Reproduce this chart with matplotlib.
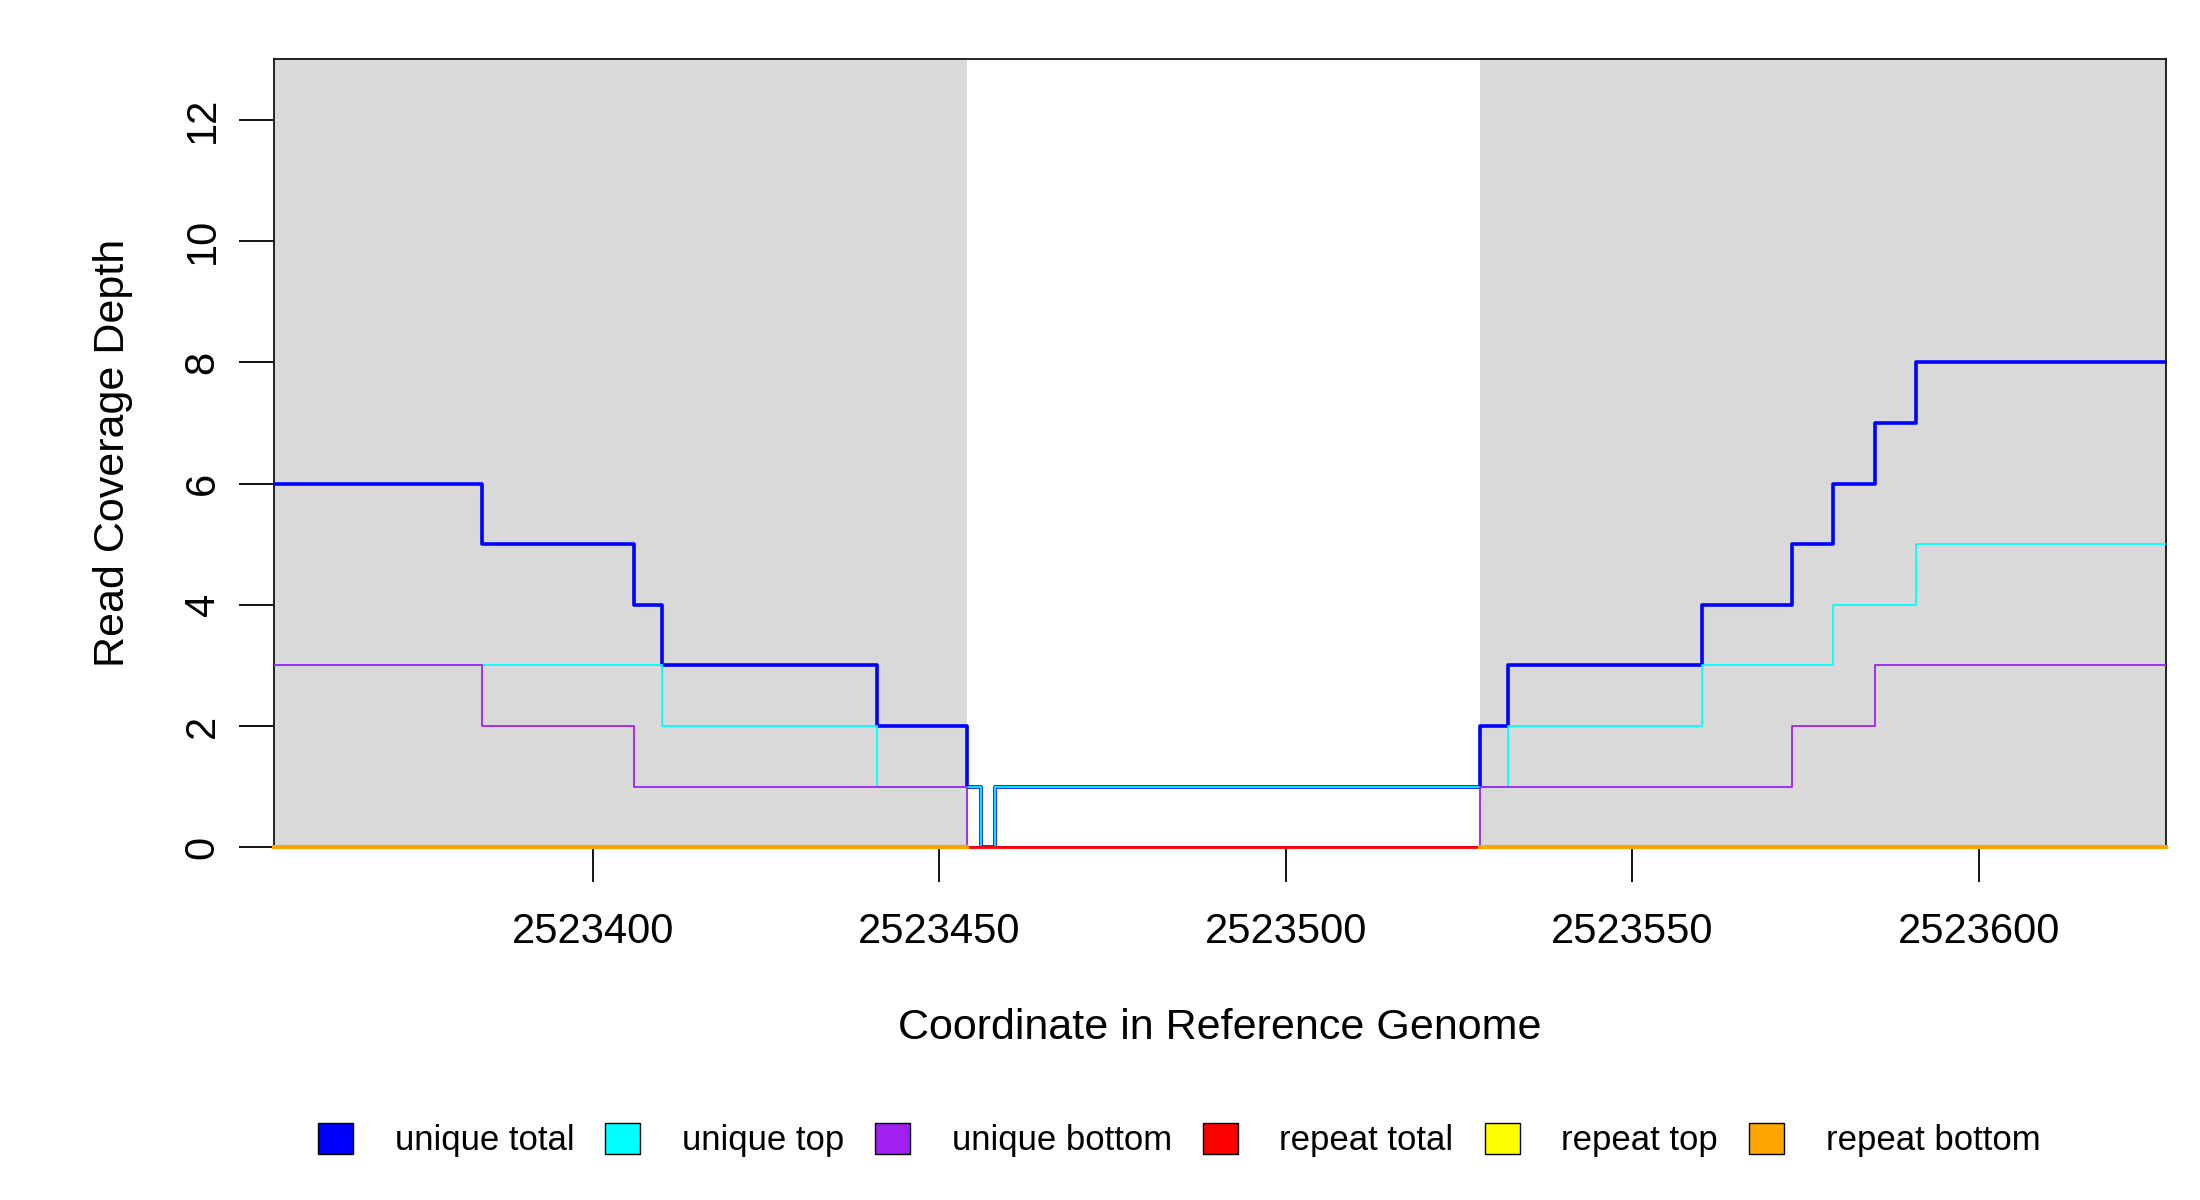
import matplotlib.pyplot as plt
import numpy as np
from matplotlib.patches import Patch

plt.rcParams['font.family'] = ['Liberation Sans', 'DejaVu Sans']

# step edges (coordinate where each value starts) and values
total_x = [2523354, 2523384, 2523406, 2523410, 2523441, 2523454, 2523456, 2523458,
           2523528, 2523532, 2523560, 2523573, 2523579, 2523585, 2523591, 2523627]
total_y = [6, 5, 4, 3, 2, 1, 0, 1, 2, 3, 4, 5, 6, 7, 8, 8]
top_x = [2523354, 2523410, 2523441, 2523456, 2523458, 2523532, 2523560, 2523579, 2523591, 2523627]
top_y = [3, 2, 1, 0, 1, 2, 3, 4, 5, 5]
bottom_x = [2523354, 2523384, 2523406, 2523454, 2523528, 2523573, 2523585, 2523627]
bottom_y = [3, 2, 1, 0, 1, 2, 3, 3]
gray_regions = [(2523354, 2523454), (2523528, 2523627)]
xlim = (2523354, 2523627)

fig = plt.figure(figsize=(22, 12), dpi=100)
ax = fig.add_axes([0.1245, 0.294, 0.86, 0.6566])
for a, b in gray_regions:
    ax.axvspan(a, b, color='#d9d9d9', lw=0, zorder=0)

ax.step(total_x, total_y, where='post', color='#0000ff', lw=2.6, zorder=3)
ax.step(top_x, top_y, where='post', color='#00ffff', lw=1.3, zorder=4)
ax.step(bottom_x, bottom_y, where='post', color='#a020f0', lw=1.3, zorder=5)
ax.plot(xlim, [0, 0], color='#ff0000', lw=2, zorder=6, clip_on=False)
for a, b in gray_regions:
    ax.plot([a, b], [0, 0], color='#ffa500', lw=3, zorder=7, clip_on=False)

ax.set_xlim(*xlim)
ax.set_ylim(0, 13)
ax.set_xticks([2523400, 2523450, 2523500, 2523550, 2523600])
ax.set_xticklabels(['2523400', '2523450', '2523500', '2523550', '2523600'], fontsize=30)
ax.set_yticks(range(0, 13, 2))
ax.set_yticklabels([str(v) for v in range(0, 13, 2)], fontsize=30, rotation=90, va='center')
ax.tick_params(axis='x', length=25, width=1.3, pad=22)
ax.tick_params(axis='y', length=25, width=1.3, pad=12)
for s in ax.spines.values():
    s.set_linewidth(1.2)
ax.set_xlabel('Coordinate in Reference Genome', fontsize=31, labelpad=40)
ax.set_ylabel('Read Coverage Depth', fontsize=31, labelpad=36)

names = ['unique total', 'unique top', 'unique bottom', 'repeat total', 'repeat top', 'repeat bottom']
colors = ['#0000ff', '#00ffff', '#a020f0', '#ff0000', '#ffff00', '#ffa500']
handles = [Patch(facecolor=c, edgecolor='black', lw=1) for c in colors]
fig.legend(handles, names, loc='center', bbox_to_anchor=(0.536, 0.05), ncol=6,
           frameon=False, fontsize=25, handlelength=1.0, handleheight=1.0,
           columnspacing=0.9, handletextpad=1.2)

fig.savefig('out.png')
